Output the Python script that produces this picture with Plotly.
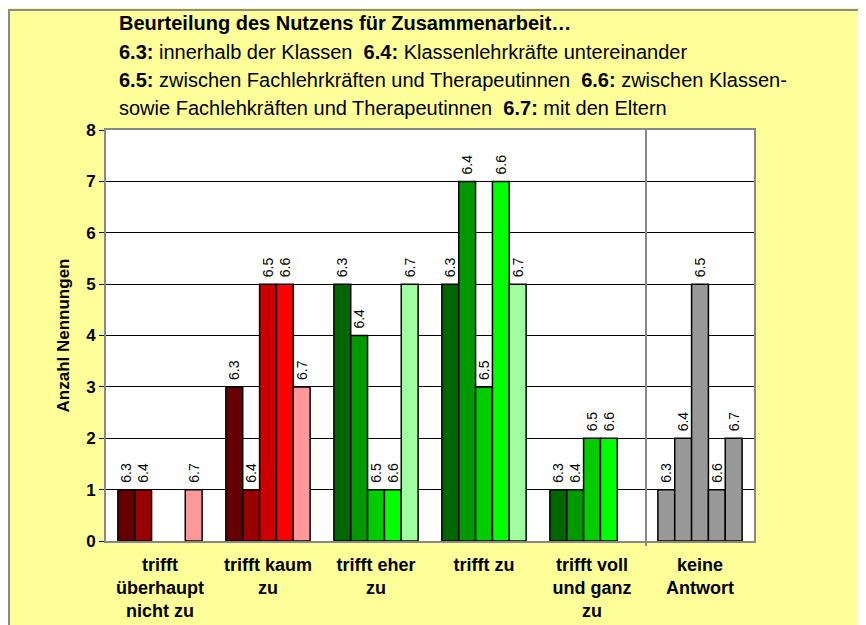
import plotly.graph_objects as go

# ---------------- data ----------------
categories = [
    "trifft<br>überhaupt<br>nicht zu",
    "trifft kaum<br>zu",
    "trifft eher<br>zu",
    "trifft zu",
    "trifft voll<br>und ganz<br>zu",
    "keine<br>Antwort",
]
series_names = ["6.3", "6.4", "6.5", "6.6", "6.7"]
values_63 = [1, 3, 5, 5, 1, 1]
values_64 = [1, 1, 4, 7, 1, 2]
values_65 = [0, 5, 1, 3, 2, 5]
values_66 = [0, 5, 1, 7, 2, 1]
values_67 = [1, 3, 5, 5, 0, 2]
series_values = [values_63, values_64, values_65, values_66, values_67]
y_ticks = [0, 1, 2, 3, 4, 5, 6, 7, 8]

title_lines = [
    "<b>Beurteilung des Nutzens für Zusammenarbeit…</b>",
    "<b>6.3:</b> innerhalb der Klassen \u00a0<b>6.4:</b> Klassenlehrkräfte untereinander",
    "<b>6.5:</b> zwischen Fachlehrkräften und Therapeutinnen \u00a0<b>6.6:</b> zwischen Klassen-",
    "sowie Fachlehkräften und Therapeutinnen \u00a0<b>6.7:</b> mit den Eltern",
]
y_title = "Anzahl Nennungen"

# ---------------- styles ----------------
palettes = {
    "red": ["#660000", "#990000", "#CC0000", "#FF0000", "#FF9999"],
    "green": ["#006600", "#009900", "#00CC00", "#00FF00", "#A0FFA0"],
    "gray": ["#999999"] * 5,
}
category_group = ["red", "red", "green", "green", "green", "gray"]
FONT = "Arial, Liberation Sans, sans-serif"

# The page body has an 8px margin, so the figure starts at (8, 8) on the page.
OFF = 8
W, H = 866 - OFF, 625 - OFF
# plot area in page pixels
L, R, T, B = 106 - OFF, 754 - OFF, 130 - OFF, 541 - OFF
pw, ph = R - L, B - T


def px_x(p):  # page pixel -> paper x
    return (p - OFF - L) / pw


def px_y(p):  # page pixel -> paper y
    return (B - (p - OFF)) / ph


fig = go.Figure()
for i, name in enumerate(series_names):
    vals = series_values[i]
    colors = [palettes[g][i] for g in category_group]
    fig.add_trace(go.Bar(
        name=name,
        x=categories,
        y=[v if v > 0 else None for v in vals],
        marker=dict(color=colors, line=dict(color="black", width=1.5)),
        text=["\u00a0" + name if v > 0 else "" for v in vals],
        textposition="outside",
        textangle=-90,
        constraintext="none",
        cliponaxis=False,
        textfont=dict(family=FONT, size=14, color="black"),
        hoverinfo="x+y+name",
    ))

annotations = []
for line, py in zip(title_lines, [23, 52, 80, 108]):
    annotations.append(dict(
        text=line, xref="paper", yref="paper", x=px_x(117), y=px_y(py),
        xanchor="left", yanchor="middle", showarrow=False,
        font=dict(family=FONT, size=20, color="black"), align="left",
    ))

shapes = [
    # chart border (top and left edges visible)
    dict(type="line", xref="paper", yref="paper", x0=px_x(7), x1=px_x(880),
         y0=px_y(10), y1=px_y(10), line=dict(color="#8a8a8a", width=2)),
    dict(type="line", xref="paper", yref="paper", x0=px_x(9), x1=px_x(9),
         y0=px_y(10), y1=px_y(640), line=dict(color="#8a8a8a", width=2)),
    # separator between answer categories and "keine Antwort"
    dict(type="line", xref="x", yref="paper", x0=4.5, x1=4.5, y0=px_y(546), y1=1,
         line=dict(color="#888888", width=2)),
]

fig.update_layout(
    width=W, height=H,
    margin=dict(l=L, r=W - R, t=T, b=H - B, autoexpand=False),
    paper_bgcolor="#FFFF99",
    plot_bgcolor="white",
    barmode="group",
    bargap=0.22,
    bargroupgap=0,
    showlegend=False,
    annotations=annotations,
    shapes=shapes,
    font=dict(family=FONT, color="black"),
)
fig.update_xaxes(
    type="category",
    showline=True, linecolor="#888888", linewidth=2, mirror=True,
    showgrid=False, ticks="",
    tickfont=dict(family=FONT, size=18, color="black", weight="bold"),
    ticklabelstandoff=6,
    automargin=False,
)
fig.update_yaxes(
    range=[0, 8], tickvals=y_ticks,
    showline=True, linecolor="#888888", linewidth=2, mirror=True,
    showgrid=True, gridcolor="black", gridwidth=1,
    zeroline=False,
    ticks="outside", ticklen=5, tickcolor="black",
    tickfont=dict(family=FONT, size=17, color="black", weight="bold"),
    title=dict(text=y_title, font=dict(family=FONT, size=17, color="black", weight="bold"), standoff=12),
    automargin=False,
)

fig.write_html("out.html")
